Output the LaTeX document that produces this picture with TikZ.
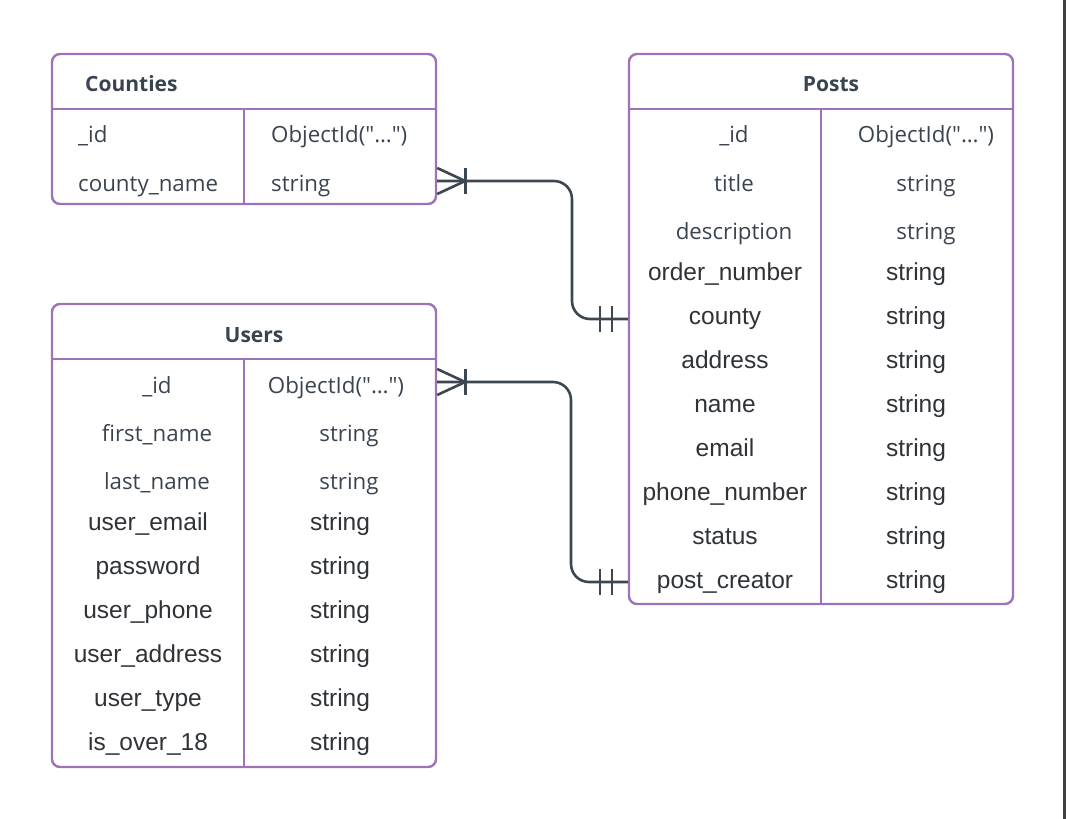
\documentclass[tikz,border=0pt]{standalone}
\usepackage{fontspec}
\newfontfamily\opensans{Open Sans}
\newfontfamily\arialish{Liberation Sans}
\usetikzlibrary{calc}
\definecolor{tblpurple}{HTML}{9E72B8}
\definecolor{linegray}{HTML}{3D4752}
\definecolor{txtgray}{HTML}{3A4450}
\definecolor{argray}{HTML}{2F3338}
\newcommand\objid{ObjectId("…")}
\tikzset{>=stealth,
  table/.style={draw=tblpurple,line width=2.4pt,rounded corners=8pt,inner sep=0pt,minimum width=384pt},
  tline/.style={draw=tblpurple,line width=2.4pt},
  ttl/.style={font=\opensans\bfseries\fontsize{21}{25}\selectfont,text=txtgray,inner sep=0pt,
    text height=19pt,text depth=3pt},
  os/.style={font=\opensans\fontsize{22.3}{26}\selectfont,text=txtgray,inner sep=0pt,
    text height=20pt,text depth=3pt},
  ar/.style={font=\arialish\fontsize{24.5}{28}\selectfont,text=argray,inner sep=0pt,
    text height=20pt,text depth=3.5pt},
  rel/.style={draw=linegray,line width=2.6pt}}

\begin{document}
\begin{tikzpicture}[x=1pt,y=-1pt]
\useasboundingbox (0,0) rectangle (1066,819);
\fill[black!75] (1063,0) rectangle (1066,819);

% Counties
\node[table,minimum height=150pt] (counties) at (244,129) {};
\draw[tline] (counties.west |- 0,109) -- (counties.east |- 0,109);
\draw[tline] (244,109) -- (counties.south);
\node[ttl,anchor=west] (c-title) at (85,83) {Counties};
\node[os,anchor=west] (c-id) at (78,134) {\_id};
\node[os,anchor=west] (c-idtype) at (271,134) {\objid};
\node[os,anchor=west] (c-name) at (78,183) {county\_name};
\node[os,anchor=west] (c-nametype) at (271,183) {string};

% Posts
\node[table,minimum height=550pt] (posts) at (821,329) {};
\draw[tline] (posts.west |- 0,109) -- (posts.east |- 0,109);
\draw[tline] (821,109) -- (posts.south);
\node[ttl] (p-title) at (831,83) {Posts};
\node[os] (p-1) at (734,134) {\_id};
\node[os] (p-type-1) at (926,134) {\objid};
\foreach \y/\f [count=\i from 2] in {183/title,231/description}
  {\node[os] (p-\i) at (734,\y) {\f};
   \node[os] (p-type-\i) at (926,\y) {string};}
\foreach \y/\f [count=\i from 4] in {272/order\_number,316/county,360/address,404/name,448/email,
    492/phone\_number,536/status,580/post\_creator}
  {\node[ar] (p-\i) at (725,\y) {\f};
   \node[ar] (p-type-\i) at (916,\y) {string};}

% Users
\node[table,minimum height=463pt] (users) at (244,535.5) {};
\draw[tline] (users.west |- 0,359) -- (users.east |- 0,359);
\draw[tline] (244,359) -- (users.south);
\node[ttl] (u-title) at (254,334) {Users};
\node[os] (u-1) at (157,385) {\_id};
\node[os] (u-type-1) at (336,385) {\objid};
\foreach \y/\f [count=\i from 2] in {433/first\_name,481/last\_name}
  {\node[os] (u-\i) at (157,\y) {\f};
   \node[os] (u-type-\i) at (349,\y) {string};}
\foreach \y/\f [count=\i from 4] in {522/user\_email,566/password,610/user\_phone,654/user\_address,
    698/user\_type,742/is\_over\_18}
  {\node[ar] (u-\i) at (148,\y) {\f};
   \node[ar] (u-type-\i) at (340,\y) {string};}

% Counties -- Posts
\coordinate (ce) at (counties.east |- 0,181);
\coordinate (pc) at (posts.west |- 0,319);
\draw[rel,rounded corners=18pt] (ce) -| (572,250) |- (pc);
\draw[rel] ($(ce)+(0,-13)$) -- ($(ce)+(28,0)$) -- ($(ce)+(0,13)$);
\draw[rel] ($(ce)+(28,-13)$) -- ($(ce)+(28,13)$);
\draw[rel] ($(pc)+(-28,-13)$) -- ($(pc)+(-28,13)$);
\draw[rel] ($(pc)+(-16,-13)$) -- ($(pc)+(-16,13)$);

% Users -- Posts
\coordinate (ue) at (users.east |- 0,382);
\coordinate (pp) at (posts.west |- 0,582);
\draw[rel,rounded corners=18pt] (ue) -| (571,480) |- (pp);
\draw[rel] ($(ue)+(0,-13)$) -- ($(ue)+(28,0)$) -- ($(ue)+(0,13)$);
\draw[rel] ($(ue)+(28,-13)$) -- ($(ue)+(28,13)$);
\draw[rel] ($(pp)+(-28,-13)$) -- ($(pp)+(-28,13)$);
\draw[rel] ($(pp)+(-16,-13)$) -- ($(pp)+(-16,13)$);
\end{tikzpicture}
\end{document}
